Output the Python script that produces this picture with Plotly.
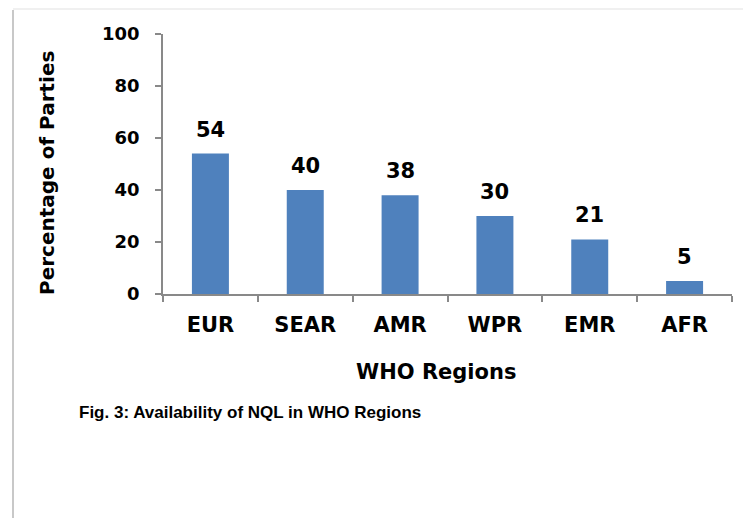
import plotly.graph_objects as go

regions = ["EUR", "SEAR", "AMR", "WPR", "EMR", "AFR"]
percent = [54, 40, 38, 30, 21, 5]
y_ticks = [0, 20, 40, 60, 80, 100]

# the page body adds an 8px offset, so the figure is 8px smaller than the window
OFF = 8
W, H = 751 - OFF, 518 - OFF
L, R, T, B = 163 - OFF, 751 - 732, 34 - OFF, 518 - 294
pw = W - L - R
ph = H - T - B

def px_x(x):
    return (x - OFF - L) / pw

def px_y(y):
    return (H - B - (y - OFF)) / ph

bar_color = "#4F81BD"
axis_color = "#898989"
font_main = "DejaVu Sans, Verdana, sans-serif"

fig = go.Figure()
fig.add_trace(go.Bar(
    x=regions, y=percent, marker=dict(color=bar_color, line=dict(width=0)),
    width=0.39, showlegend=False, hoverinfo="x+y",
))

for r, v in zip(regions, percent):
    fig.add_annotation(x=r, y=v, xref="x", yref="y", text=f"<b>{v}</b>",
                       showarrow=False, yanchor="bottom", yshift=10,
                       font=dict(size=21, color="black", family=font_main))

fig.add_annotation(xref="paper", yref="paper", x=px_x(47), y=px_y(173),
                   xanchor="center", yanchor="middle",
                   text="<b>Percentage of Parties</b>", textangle=-90,
                   showarrow=False, font=dict(size=20, color="black", family=font_main))
fig.add_annotation(xref="paper", yref="paper", x=px_x(436), y=px_y(372),
                   xanchor="center", yanchor="middle",
                   text="<b>WHO Regions</b>", showarrow=False,
                   font=dict(size=21, color="black", family=font_main))
fig.add_annotation(xref="paper", yref="paper", x=px_x(77), y=px_y(412),
                   xanchor="left", yanchor="middle",
                   text="<b>Fig. 3: Availability of NQL in WHO Regions</b>", showarrow=False,
                   font=dict(size=17, color="black", family="Liberation Sans, Arial, sans-serif"))

# page border
fig.add_shape(type="line", xref="paper", yref="paper", x0=px_x(13), x1=px_x(13),
              y0=px_y(10), y1=px_y(530), line=dict(color="#c8c8c8", width=2))
fig.add_shape(type="line", xref="paper", yref="paper", x0=px_x(13), x1=px_x(760),
              y0=px_y(9), y1=px_y(9), line=dict(color="#f0f0f0", width=2))

fig.update_layout(
    width=W, height=H,
    margin=dict(l=L, r=R, t=T, b=B),
    paper_bgcolor="white", plot_bgcolor="white",
    font=dict(family=font_main, color="black"),
)
fig.update_xaxes(
    type="category", range=[-0.5, 5.5], showline=True, linecolor=axis_color, linewidth=1.5,
    ticks="outside", tickson="boundaries", ticklen=6, tickcolor=axis_color, tickwidth=1.5,
    tickfont=dict(size=21, color="black", family=font_main),
    tickvals=regions, ticktext=[f"<b>{r}</b>" for r in regions],
    showgrid=False, zeroline=False, ticklabelstandoff=11,
)
fig.update_yaxes(
    range=[0, 100], tickvals=y_ticks, ticktext=[f"<b>{t}</b>" for t in y_ticks],
    showline=True, linecolor=axis_color, linewidth=1.5,
    ticks="outside", ticklen=6, tickcolor=axis_color, tickwidth=1.5,
    tickfont=dict(size=18, color="black", family=font_main),
    showgrid=False, zeroline=False, ticklabelstandoff=12,
)

fig.write_html("out.html")
